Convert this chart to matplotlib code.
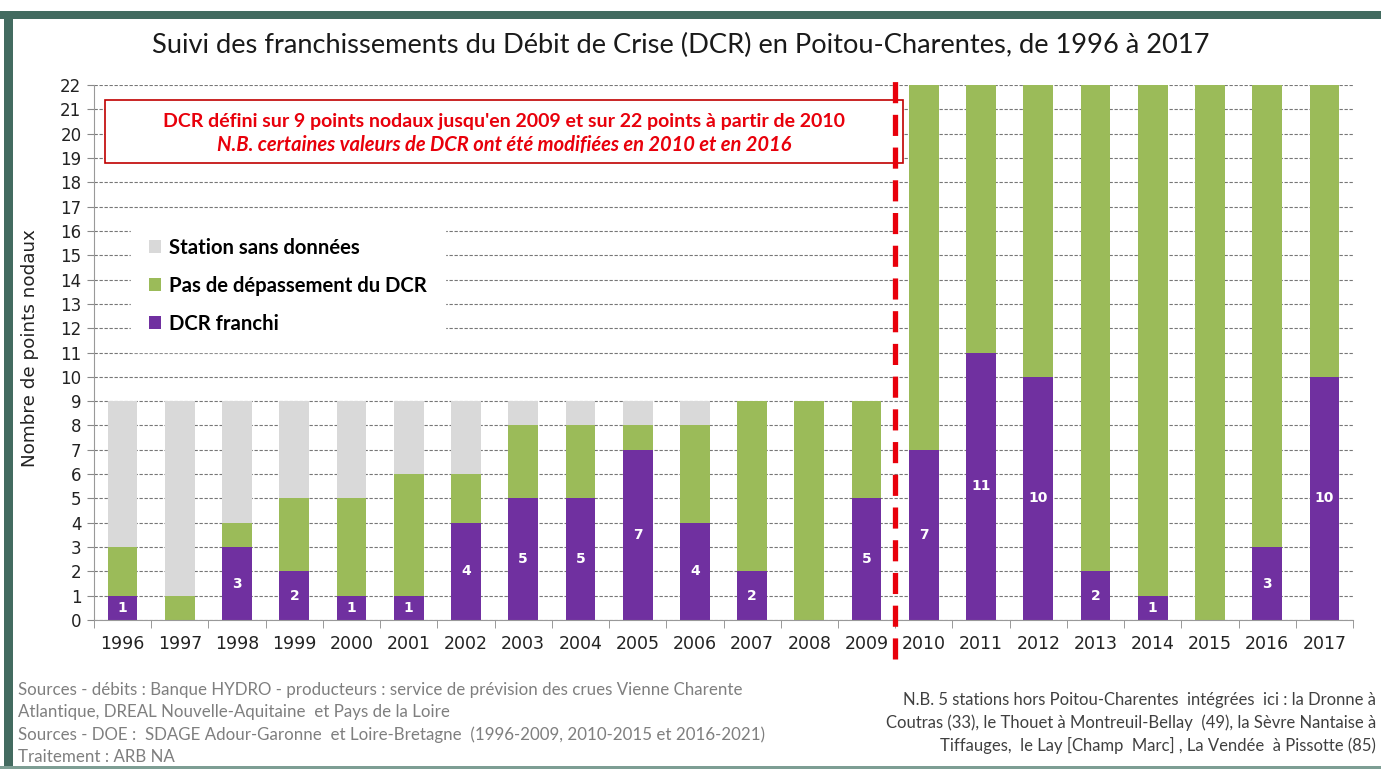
import numpy as np
import matplotlib
matplotlib.use('Agg')
import matplotlib.pyplot as plt
from matplotlib.patches import Rectangle

# data
years = ['1996', '1997', '1998', '1999', '2000', '2001', '2002', '2003', '2004', '2005', '2006',
         '2007', '2008', '2009', '2010', '2011', '2012', '2013', '2014', '2015', '2016', '2017']
dcr_franchi = [1, 0, 3, 2, 1, 1, 4, 5, 5, 7, 4, 2, 0, 5, 7, 11, 10, 2, 1, 0, 3, 10]
pas_depassement = [2, 1, 1, 3, 4, 5, 2, 3, 3, 1, 4, 7, 9, 4, 15, 11, 12, 20, 21, 22, 19, 12]
sans_donnees = [6, 8, 5, 4, 4, 3, 3, 1, 1, 1, 1, 0, 0, 0, 0, 0, 0, 0, 0, 0, 0, 0]

PURPLE = '#7030a0'
GREEN = '#9bbb59'
GRAY = '#d9d9d9'
RED = '#e8000b'
FRAME = '#436b60'
TXT = 'Lato'


def main():
    fig = plt.figure(figsize=(13.81, 7.69), dpi=100)
    ax = fig.add_axes([94 / 1381, 1 - 620 / 769, (1353 - 94) / 1381, (620 - 85) / 769])

    x = np.arange(len(years))
    w = 0.52
    b1 = ax.bar(x, dcr_franchi, w, color=PURPLE, label='DCR franchi', zorder=2)
    ax.bar(x, pas_depassement, w, bottom=dcr_franchi, color=GREEN,
           label='Pas de dépassement du DCR', zorder=2)
    bot = np.array(dcr_franchi) + np.array(pas_depassement)
    ax.bar(x, sans_donnees, w, bottom=bot, color=GRAY, label='Station sans données', zorder=2)

    ax.bar_label(b1, labels=[str(v) if v else '' for v in dcr_franchi], label_type='center',
                 color='white', fontweight='bold', fontsize=10, family='DejaVu Sans')

    ax.set_xlim(-0.5, len(years) - 0.5)
    ax.set_ylim(0, 22)
    ax.set_yticks(range(0, 23))
    ax.set_xticks(x)
    ax.set_xticklabels(years)
    ax.set_xticks(np.arange(-0.5, len(years)), minor=True)
    ax.tick_params(axis='x', which='major', length=0, labelsize=12.5, pad=11, colors='#222222')
    ax.tick_params(axis='x', which='minor', length=6, color='#888888')
    ax.tick_params(axis='y', length=5, color='#888888', labelsize=12, colors='#222222', pad=4)
    ax.yaxis.grid(True, linestyle=(0, (3, 1.5)), color='#777777', linewidth=0.8)
    ax.set_axisbelow(True)
    for s in ['top', 'right']:
        ax.spines[s].set_visible(False)
    for s in ['left', 'bottom']:
        ax.spines[s].set_color('#999999')

    # red note box
    ax.add_patch(Rectangle((-0.31, 18.8), 13.94, 2.6, facecolor='white', edgecolor='#c00000',
                           lw=1.2, zorder=3))
    ax.text(6.66, 20.5, "DCR défini sur 9 points nodaux jusqu'en 2009 et sur 22 points à partir de 2010",
            ha='center', va='center', color=RED, fontsize=14, fontweight='bold', family=TXT, zorder=4)
    ax.text(6.66, 19.53, "N.B. certaines valeurs de DCR ont été modifiées en 2010 et en 2016",
            ha='center', va='center', color=RED, fontsize=14.5, fontweight='bold', style='italic',
            family=TXT, zorder=4)

    # change of network between 2009 and 2010
    ax.axvline(years.index('2010') - 0.5, ymin=-0.072, ymax=1.022, color=RED, lw=3.8,
               linestyle=(0, (4, 2.2)), clip_on=False, zorder=5)

    h, l = ax.get_legend_handles_labels()
    leg = ax.legend(h[::-1], l[::-1], loc='upper left', bbox_to_anchor=(0.029, 0.748),
                    borderaxespad=0, frameon=True, fancybox=False, framealpha=1,
                    edgecolor='white', facecolor='white', handlelength=0.6, handleheight=0.6,
                    handletextpad=0.4, labelspacing=0.88, borderpad=0.9,
                    prop={'family': TXT, 'weight': 'bold', 'size': 14.6})
    leg.set_zorder(3)

    fig.text(681 / 1381, 1 - 45 / 769,
             'Suivi des franchissements du Débit de Crise (DCR) en Poitou-Charentes, de 1996 à 2017',
             ha='center', va='center', fontsize=19.6, family=TXT, color='#1a1a1a')
    fig.text(30 / 1381, 1 - 348 / 769, 'Nombre de points nodaux', rotation=90, ha='center',
             va='center', fontsize=13.2, family='DejaVu Sans', color='#222222')

    left_notes = ['Sources - débits : Banque HYDRO - producteurs : service de prévision des crues Vienne Charente',
                  'Atlantique, DREAL Nouvelle-Aquitaine  et Pays de la Loire',
                  'Sources - DOE :  SDAGE Adour-Garonne  et Loire-Bretagne  (1996-2009, 2010-2015 et 2016-2021)',
                  'Traitement : ARB NA']
    for i, s in enumerate(left_notes):
        fig.text(18 / 1381, 1 - (690 + i * 22.5) / 769, s, ha='left', va='center',
                 fontsize=12.2, family=TXT, color='#7f7f7f')
    right_notes = ['N.B. 5 stations hors Poitou-Charentes  intégrées  ici : la Dronne à',
                   'Coutras (33), le Thouet à Montreuil-Bellay  (49), la Sèvre Nantaise à',
                   'Tiffauges,  le Lay [Champ  Marc] , La Vendée  à Pissotte (85)']
    for i, s in enumerate(right_notes):
        fig.text(1376 / 1381, 1 - (700 + i * 22.5) / 769, s, ha='right', va='center',
                 fontsize=12, family=TXT, color='#404040')

    # dark green frame
    fig.patches.append(Rectangle((0, 1 - 19 / 769), 1, 8 / 769, transform=fig.transFigure,
                                 facecolor=FRAME, edgecolor='none'))
    fig.patches.append(Rectangle((4 / 1381, 0), 9 / 1381, 1 - 11 / 769, transform=fig.transFigure,
                                 facecolor=FRAME, edgecolor='none'))
    fig.patches.append(Rectangle((0, 0), 1, 3 / 769, transform=fig.transFigure,
                                 facecolor='#7d9e94', edgecolor='none'))

    fig.savefig('out.png', dpi=100)


if __name__ == '__main__':
    main()
